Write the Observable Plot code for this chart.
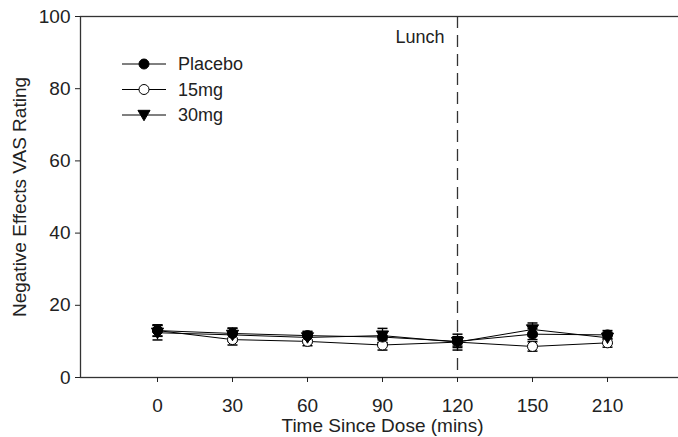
<!DOCTYPE html>
<html>
<head>
<meta charset="utf-8">
<script src="https://cdn.jsdelivr.net/npm/d3@7"></script>
<script src="https://cdn.jsdelivr.net/npm/@observablehq/plot@0.6"></script>
<style>
html, body { margin: 0; padding: 0; background: #fff; overflow: hidden; }
#chart { position: relative; width: 678px; height: 437px; overflow: hidden; }
</style>
</head>
<body>
<div id="chart"></div>
<script>
// ---- data ----
const times = ["0", "30", "60", "90", "120", "150", "210"];
const seriesNames = ["Placebo", "15mg", "30mg"];
const placebo    = [13.0, 12.2, 11.6, 11.2, 10.0, 12.0, 11.8];
const placeboErr = [1.6, 1.5, 1.2, 1.5, 1.3, 1.5, 1.2];
const mg15       = [13.0, 10.5, 10.0, 9.0, 9.8, 8.6, 9.6];
const mg15Err    = [1.5, 1.5, 1.2, 1.4, 1.5, 1.3, 1.2];
const mg30       = [12.4, 11.8, 11.1, 11.6, 9.8, 13.3, 11.0];
const mg30Err    = [2.0, 1.8, 1.5, 2.0, 2.2, 1.8, 1.5];
const yTicks = [0, 20, 40, 60, 80, 100];
const lunchTime = "120";
const lunchLabel = "Lunch";
const xLabel = "Time Since Dose (mins)";
const yLabel = "Negative Effects VAS Rating";

const values = [placebo, mg15, mg30];
const errs = [placeboErr, mg15Err, mg30Err];
const rows = [];
seriesNames.forEach((s, i) => {
  times.forEach((t, j) => rows.push({series: s, time: t, value: values[i][j], err: errs[i][j]}));
});

// ---- custom symbols ----
const triDown = {
  draw(ctx, size) {
    const r = Math.sqrt(size / Math.PI);
    ctx.moveTo(-r * 1.1, -r * 0.85);
    ctx.lineTo(r * 1.1, -r * 0.85);
    ctx.lineTo(0, r * 1.05);
    ctx.closePath();
  }
};
const capSym = {
  draw(ctx, size) {
    const r = Math.sqrt(size / Math.PI);
    ctx.moveTo(-r, 0);
    ctx.lineTo(r, 0);
  }
};

const font = "Arial, 'Liberation Sans', Helvetica, sans-serif";
const byS = s => rows.filter(d => d.series === s);

const chart = Plot.plot({
  width: 678,
  height: 437,
  marginLeft: 80,
  marginTop: 16,
  marginBottom: 60,
  marginRight: -6,
  style: {fontFamily: font, fontSize: "19px", color: "#222", background: "#fff", overflow: "hidden"},
  x: {type: "point", domain: times, padding: 1},
  y: {domain: [0, 100]},
  marks: [
    Plot.frame({stroke: "#333", strokeWidth: 1.3}),
    Plot.axisY({ticks: yTicks, tickSize: 5, tickPadding: 5, label: null, fontSize: 19}),
    Plot.axisX({tickSize: 5, tickPadding: 16, label: null, fontSize: 19}),
    Plot.ruleX([lunchTime], {x: d => d, stroke: "#333", strokeWidth: 1.3, strokeDasharray: "12,7"}),
    Plot.text([lunchLabel], {x: () => lunchTime, text: d => d, frameAnchor: "top", textAnchor: "end", lineAnchor: "top", dx: -13, dy: 14, fontSize: 18, fill: "#222"}),
    Plot.line(rows, {x: "time", y: "value", z: "series", stroke: "black", strokeWidth: 1}),
    Plot.ruleX(rows, {x: "time", y1: d => d.value - d.err, y2: d => d.value + d.err, stroke: "black", strokeWidth: 1.3}),
    Plot.dot(rows, {x: "time", y: d => d.value + d.err, symbol: capSym, r: 5, stroke: "black", strokeWidth: 1.5}),
    Plot.dot(rows, {x: "time", y: d => d.value - d.err, symbol: capSym, r: 5, stroke: "black", strokeWidth: 1.5}),
    Plot.dot(byS("15mg"), {x: "time", y: "value", r: 5, fill: "white", stroke: "black", strokeWidth: 1}),
    Plot.dot(byS("30mg"), {x: "time", y: "value", symbol: triDown, r: 5.5, fill: "black", stroke: "black", strokeWidth: 1}),
    Plot.dot(byS("Placebo"), {x: "time", y: "value", r: 5, fill: "black", stroke: "black", strokeWidth: 1}),
    Plot.text([xLabel], {text: d => d, frameAnchor: "bottom", textAnchor: "middle", lineAnchor: "top", dy: 41, fontSize: 19, fill: "#222"}),
    Plot.text([yLabel], {text: d => d, frameAnchor: "left", textAnchor: "middle", rotate: -90, lineAnchor: "top", dx: -68, fontSize: 19, fill: "#222"})
  ]
});

document.getElementById("chart").appendChild(chart);

// ---- legend (drawn into the same SVG) ----
const svg = d3.select(chart);
const legend = svg.append("g")
  .attr("font-family", font).attr("font-size", 18).attr("fill", "#222")
  .attr("text-anchor", "start");
const legendFill = {"Placebo": "black", "15mg": "white", "30mg": "black"};
seriesNames.forEach((s, i) => {
  const g = legend.append("g").attr("transform", `translate(0, ${64 + i * 25.5})`);
  g.append("line").attr("x1", 122).attr("x2", 166).attr("y1", 0).attr("y2", 0).attr("stroke", "black").attr("stroke-width", 1);
  if (s === "30mg") {
    g.append("path").attr("d", d3.symbol(triDown, 5.5 * 5.5 * Math.PI)()).attr("transform", "translate(144,0)").attr("fill", "black").attr("stroke", "black");
  } else {
    g.append("circle").attr("cx", 144).attr("cy", 0).attr("r", 5).attr("fill", legendFill[s]).attr("stroke", "black");
  }
  g.append("text").attr("x", 178).attr("y", 0).attr("dy", "0.35em").attr("text-anchor", "start").text(s);
});
</script>
</body>
</html>
